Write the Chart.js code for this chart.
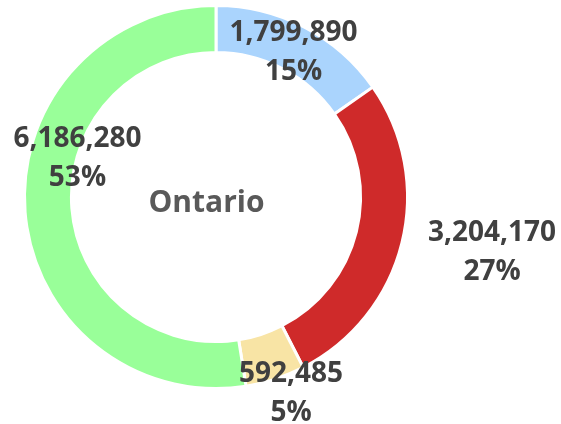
<!DOCTYPE html>
<html>
<head>
<meta charset="utf-8">
<script src="https://cdn.jsdelivr.net/npm/chart.js@4/dist/chart.umd.min.js"></script>
<style>
html,body{margin:0;padding:0;background:#fff;}
#wrap{width:561px;height:424px;}
</style>
</head>
<body>
<div id="wrap"><canvas id="c" width="561" height="424"></canvas></div>
<script>
const categories = ['Segment A', 'Segment B', 'Segment C', 'Segment D'];
const values = [1799890, 3204170, 592485, 6186280];
const percentLabels = ['15%', '27%', '5%', '53%'];
const centerTitle = 'Ontario';

const colors = ['#AAD4FD', '#CF2A2A', '#F8E4A5', '#99FF99'];
// label offsets from each arc's centroid (layout only)
const labelOffsets = [[0, 3], [113, 13], [23, 35], [29, -54]];

const labelPlugin = {
  id: 'labels',
  afterDatasetsDraw(chart) {
    const ctx = chart.ctx;
    const meta = chart.getDatasetMeta(0);
    ctx.save();
    ctx.fillStyle = '#404040';
    ctx.font = 'bold 28px "Open Sans"';
    ctx.textAlign = 'center';
    ctx.textBaseline = 'alphabetic';
    const cap = 28 * 0.357;
    meta.data.forEach((arc, i) => {
      const p = arc.tooltipPosition();
      const x = p.x + labelOffsets[i][0];
      const y = p.y + labelOffsets[i][1];
      ctx.fillText(values[i].toLocaleString('en-US'), x, y - 19.5 + cap);
      ctx.fillText(percentLabels[i], x, y + 19.5 + cap);
    });
    const a = meta.data[0];
    ctx.fillStyle = '#595959';
    ctx.font = 'bold 30px "Open Sans"';
    ctx.fillText(centerTitle, a.x - 9.5, a.y + 14.5);
    ctx.restore();
  }
};

new Chart(document.getElementById('c'), {
  type: 'doughnut',
  data: {
    labels: categories,
    datasets: [{
      data: values,
      backgroundColor: colors,
      borderColor: '#ffffff',
      borderWidth: 3,
      hoverOffset: 0
    }]
  },
  options: {
    responsive: false,
    animation: false,
    cutout: '75.5%',
    layout: { padding: { left: 23, right: 152, top: 4, bottom: 34 } },
    plugins: {
      legend: { display: false },
      tooltip: { enabled: false }
    }
  },
  plugins: [labelPlugin]
});
</script>
</body>
</html>
